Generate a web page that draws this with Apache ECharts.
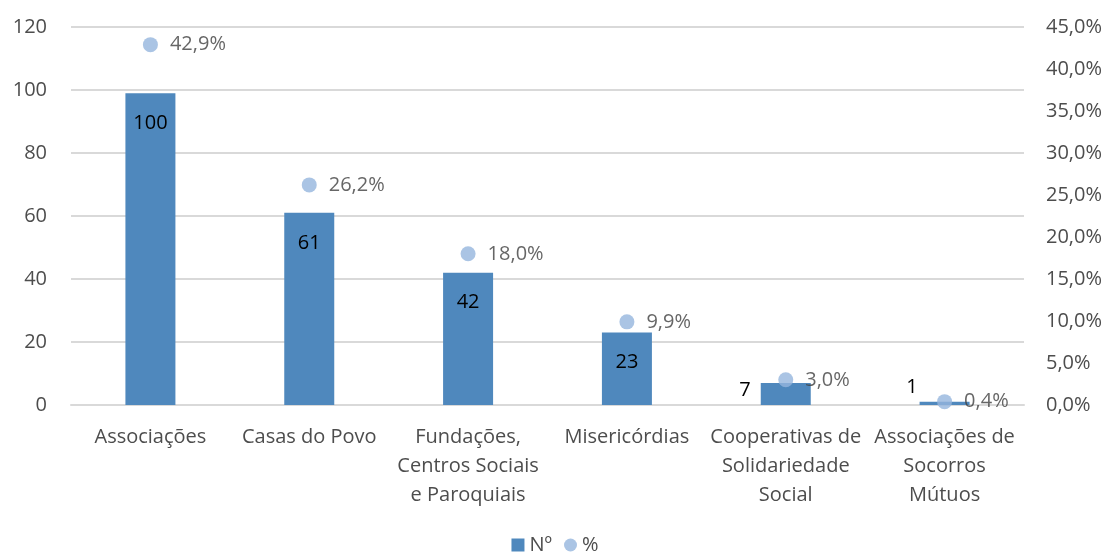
<!DOCTYPE html>
<html>
<head>
<meta charset="utf-8">
<script src="https://cdn.jsdelivr.net/npm/echarts@6/dist/echarts.min.js"></script>
<style>
  html, body { margin: 0; padding: 0; background: #fff; }
  #chart { width: 1110px; height: 554px; }
</style>
</head>
<body>
<div id="chart"></div>
<script>
const categories = [
  'Associações',
  'Casas do Povo',
  'Fundações,\nCentros Sociais\ne Paroquiais',
  'Misericórdias',
  'Cooperativas de\nSolidariedade\nSocial',
  'Associações de\nSocorros\nMútuos'
];
const counts = [99, 61, 42, 23, 7, 1];
const countLabels = ['100', '61', '42', '23', '7', '1'];
const percents = [42.9, 26.2, 18.0, 9.9, 3.0, 0.4];

const font = '"Open Sans", "Liberation Sans", sans-serif';
const barColor = '#4F88BD';
const dotColor = '#95B5DD';
const textColor = '#4D4D4D';

const chart = echarts.init(document.getElementById('chart'));
chart.setOption({
  animation: false,
  textStyle: {fontFamily: font},
  grid: {left: 71, right: 86, top: 27, bottom: 149},
  legend: {
    bottom: -6,
    left: 'center',
    itemGap: 12,
    itemWidth: 13,
    itemHeight: 13,
    textStyle: {fontSize: 20, color: textColor, fontFamily: font},
    data: [
      {name: 'Nº', icon: 'rect'},
      {name: '%', icon: 'circle'}
    ]
  },
  xAxis: {
    type: 'category',
    data: categories,
    axisLine: {lineStyle: {color: '#D9D9D9', width: 2}},
    axisTick: {show: false},
    axisLabel: {
      interval: 0,
      margin: 18,
      color: textColor,
      fontSize: 20,
      lineHeight: 29,
      fontFamily: font
    }
  },
  yAxis: [
    {
      type: 'value',
      min: 0, max: 120, interval: 20,
      axisLine: {show: false},
      axisTick: {show: false},
      splitLine: {lineStyle: {color: '#D9D9D9', width: 2}},
      axisLabel: {margin: 24, color: textColor, fontSize: 20, fontFamily: font}
    },
    {
      type: 'value',
      min: 0, max: 45, interval: 5,
      axisLine: {show: false},
      axisTick: {show: false},
      splitLine: {show: false},
      axisLabel: {
        margin: 22,
        color: textColor,
        fontSize: 20,
        fontFamily: font,
        formatter: v => v.toFixed(1).replace('.', ',') + '%'
      }
    }
  ],
  series: [
    {
      name: 'Nº',
      type: 'bar',
      barWidth: 50,
      yAxisIndex: 0,
      itemStyle: {color: barColor},
      data: counts.map(v => ({
        value: v,
        label: v < 10
          ? {position: 'left', distance: 10, offset: v < 5 ? [8, -16] : [0, -4]}
          : {position: 'insideTop', distance: 20}
      })),
      label: {
        show: true,
        color: '#000',
        fontSize: 20,
        fontFamily: font,
        formatter: p => countLabels[p.dataIndex]
      }
    },
    {
      name: '%',
      type: 'scatter',
      yAxisIndex: 1,
      symbol: 'circle',
      symbolSize: 15,
      itemStyle: {color: dotColor},
      data: percents,
      label: {
        show: true,
        position: 'right',
        distance: 12,
        color: '#404040',
        fontSize: 20,
        fontFamily: font,
        formatter: p => p.value.toFixed(1).replace('.', ',') + '%'
      }
    }
  ]
});
</script>
</body>
</html>
